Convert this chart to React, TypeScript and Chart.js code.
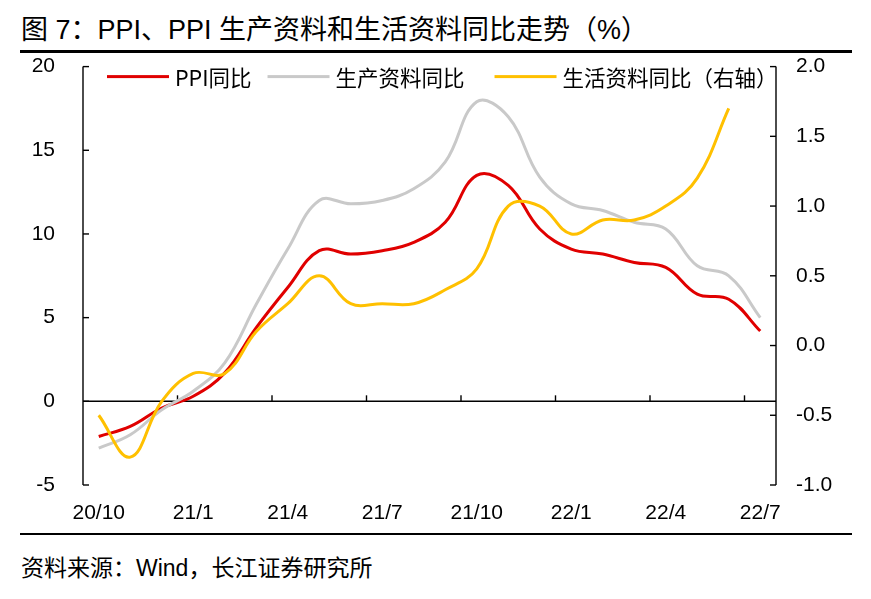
import React, { useEffect, useRef } from "react";
import { Chart, registerables } from "chart.js";
Chart.register(...registerables);

const categories = [
  "20/10", "20/11", "20/12", "21/1", "21/2", "21/3", "21/4", "21/5", "21/6", "21/7", "21/8",
  "21/9", "21/10", "21/11", "21/12", "22/1", "22/2", "22/3", "22/4", "22/5", "22/6", "22/7",
];
const ppi = [-2.1, -1.5, -0.4, 0.3, 1.7, 4.4, 6.8, 9.0, 8.8, 9.0, 9.5, 10.7, 13.5, 12.9, 10.3, 9.1, 8.8, 8.3, 8.0, 6.4, 6.1, 4.2];
const producer = [-2.8, -2.0, -0.5, 0.6, 2.3, 5.8, 9.1, 12.0, 11.8, 12.0, 12.7, 14.3, 17.9, 17.0, 13.4, 11.8, 11.4, 10.7, 10.3, 8.1, 7.5, 5.0];
const consumer = [-0.5, -0.8, -0.4, -0.2, -0.2, 0.1, 0.3, 0.5, 0.3, 0.3, 0.3, 0.4, 0.55, 1.0, 1.0, 0.8, 0.9, 0.9, 1.0, 1.2, 1.7, null];
const seriesNames = ["PPI同比", "生产资料同比", "生活资料同比（右轴）"];
const seriesColors = ["#E00000", "#C9C9C9", "#FFC000"];

const latin = "'Liberation Sans', Arial, 'Noto Sans CJK SC', sans-serif";
const cjk = "'Noto Sans CJK SC', 'Liberation Sans', sans-serif";

const axisDecor = {
  id: "axisDecor",
  beforeDatasetsDraw(chart: any) {
    const { ctx, chartArea, scales } = chart;
    const { left, right, top, bottom } = chartArea;
    const x = scales.x, y = scales.y, y1 = scales.y1;
    const line = (x1: number, yA: number, x2: number, yB: number) => {
      ctx.beginPath();
      ctx.moveTo(x1, yA);
      ctx.lineTo(x2, yB);
      ctx.stroke();
    };
    ctx.save();
    ctx.strokeStyle = "#000";
    ctx.lineWidth = 1.4;
    line(left, top, left, bottom);
    line(right, top, right, bottom);
    const zy = y.getPixelForValue(0);
    line(left, zy, right, zy);
    y.ticks.forEach((t: any) => {
      const py = y.getPixelForValue(t.value);
      line(left, py, left + 6, py);
    });
    y1.ticks.forEach((t: any) => {
      const py = y1.getPixelForValue(t.value);
      line(right - 6, py, right, py);
    });
    const step = x.getPixelForValue(1) - x.getPixelForValue(0);
    categories.forEach((_c, i) => {
      if (i > 0 && i % 3 === 0) {
        const px = x.getPixelForValue(i) - step / 2;
        line(px, zy - 6, px, zy);
      }
    });
    ctx.restore();
  },
};

const lineLegend = {
  id: "lineLegend",
  afterDatasetsDraw(chart: any) {
    const { ctx, chartArea } = chart;
    const gaps = [16, 30];
    const boxW = 62;
    const cy = chartArea.top + 10;
    let cx = chartArea.left + 24;
    ctx.save();
    ctx.font = `21.5px ${cjk}`;
    ctx.textBaseline = "middle";
    ctx.textAlign = "left";
    chart.data.datasets.forEach((ds: any, i: number) => {
      ctx.fillStyle = ds.borderColor;
      ctx.fillRect(cx, cy - 1.5, boxW, 3);
      cx += boxW + 6;
      ctx.fillStyle = "#000";
      ctx.fillText(ds.label, cx, cy + 1);
      cx += ctx.measureText(ds.label).width + (gaps[i] || 0);
    });
    ctx.restore();
  },
};

export default function App() {
  const ref = useRef<HTMLCanvasElement | null>(null);
  useEffect(() => {
    if (!ref.current) return;
    const data = [ppi, producer, consumer];
    const chart = new Chart(ref.current, {
      type: "line",
      data: {
        labels: categories,
        datasets: data.map((d, k) => ({
          label: seriesNames[k],
          data: d,
          borderColor: seriesColors[k],
          backgroundColor: seriesColors[k],
          borderWidth: 3,
          pointRadius: 0,
          tension: 0.4,
          fill: false,
          yAxisID: k === 2 ? "y1" : "y",
          order: 3 - k,
        })),
      },
      options: {
        animation: false,
        responsive: false,
        layout: { padding: 0 },
        plugins: {
          tooltip: { enabled: false },
          legend: { display: false },
        },
        scales: {
          x: {
            type: "category",
            offset: true,
            grid: { display: false },
            border: { display: false },
            ticks: {
              autoSkip: false,
              maxRotation: 0,
              minRotation: 0,
              padding: 8,
              color: "#000",
              font: { size: 21, family: latin },
              callback: (_v: any, i: number) => (i % 3 === 0 ? categories[i] : ""),
            },
            afterFit: (s: any) => {
              s.height = 45;
            },
          },
          y: {
            position: "left",
            min: -5,
            max: 20,
            grid: { display: false },
            border: { display: false },
            ticks: { stepSize: 5, padding: 20, color: "#000", font: { size: 21, family: latin } },
            afterFit: (s: any) => {
              s.width = 83;
            },
          },
          y1: {
            position: "right",
            min: -1,
            max: 2,
            grid: { display: false },
            border: { display: false },
            ticks: {
              stepSize: 0.5,
              padding: 12,
              color: "#000",
              font: { size: 21, family: latin },
              callback: (v: any) => Number(v).toFixed(1),
            },
            afterFit: (s: any) => {
              s.width = 95;
            },
          },
        },
      } as any,
      plugins: [axisDecor, lineLegend],
    });
    return () => chart.destroy();
  }, []);

  return (
    <div style={{ position: "fixed", left: 0, top: 0, width: 871, height: 599, background: "#fff", color: "#000" }}>
      <div style={{ position: "absolute", left: 21, top: 16, fontSize: 27, lineHeight: "28px", whiteSpace: "nowrap", fontFamily: latin }}>
        图 7：PPI、PPI 生产资料和生活资料同比走势（%）
      </div>
      <div style={{ position: "absolute", left: 20, top: 50, width: 832, height: 3, background: "#000" }} />
      <div style={{ position: "absolute", left: 0, top: 34, width: 871, height: 496 }}>
        <canvas ref={ref} width={871} height={496} style={{ width: 871, height: 496, display: "block" }} />
      </div>
      <div style={{ position: "absolute", left: 20, top: 533, width: 832, height: 2, background: "#000" }} />
      <div style={{ position: "absolute", left: 21, top: 555, fontSize: 23, lineHeight: "26px", whiteSpace: "nowrap", fontFamily: latin }}>
        资料来源：Wind，长江证券研究所
      </div>
    </div>
  );
}
